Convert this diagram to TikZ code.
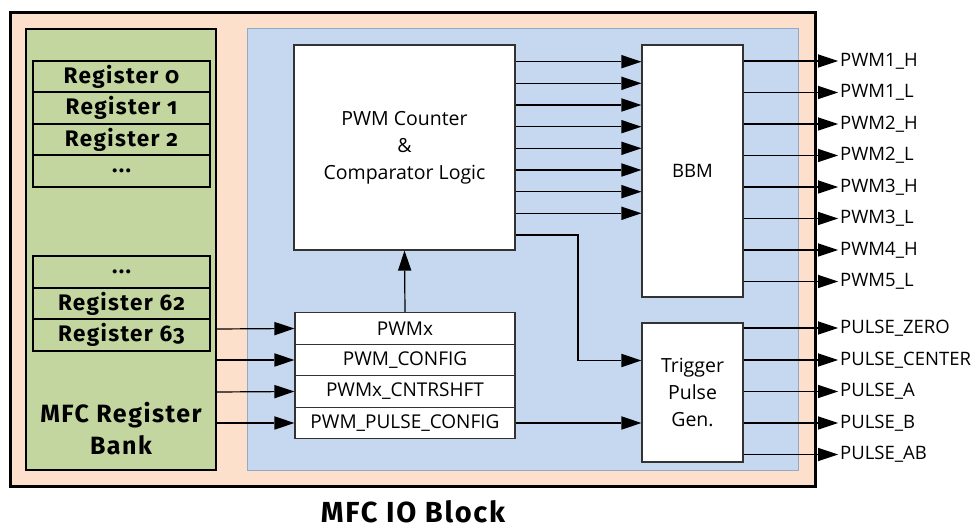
\documentclass[tikz,border=0pt]{standalone}
\usepackage{fontspec}
\setmainfont{Open Sans}
\newfontfamily\regfont[Numbers=OldStyle,LetterSpace=6]{Fira Sans}
\usetikzlibrary{arrows.meta}
\definecolor{peach}{HTML}{FCE0CC}
\definecolor{regGreen}{HTML}{C4D69F}
\definecolor{blk}{HTML}{C6D8EF}
\definecolor{blkBorder}{HTML}{95A9C4}
\tikzset{
  lbl/.style={font=\fontsize{18.5}{20}\selectfont, anchor=west, inner sep=0pt},
  regrow/.style={draw=black, line width=2pt, fill=regGreen, minimum width=177pt, minimum height=31.5pt, inner sep=0pt, font=\regfont\bfseries\fontsize{22.5}{24}\selectfont},
  stackrow/.style={draw=black!80, line width=1.2pt, fill=white, minimum width=220pt, minimum height=31.5pt, inner sep=0pt, font=\fontsize{19}{21}\selectfont},
  wbox/.style={draw=black!80, line width=1.2pt, fill=white, inner sep=0pt, align=center},
  sig/.style={line width=1.2pt, arrows={-Triangle[length=20pt,width=13.5pt,line width=0pt]}},
  wire/.style={line width=1.2pt}
}
\begin{document}
\begin{tikzpicture}[x=1pt,y=-1pt]
\useasboundingbox (0,0) rectangle (978,529);
% outer block
\node[draw=black, line width=3pt, fill=peach, minimum width=805pt, minimum height=473pt, inner sep=0pt] (outer) at (412.5,249.5) {};
% register bank
\node[draw=black, line width=2pt, fill=regGreen, minimum width=190pt, minimum height=441pt, inner sep=0pt] (bank) at (121,249.5) {};
\node[regrow] (r0) at (121.5,76.5) {Register 0};
\node[regrow] (r1) at (121.5,108) {Register 1};
\node[regrow] (r2) at (121.5,139.5) {Register 2};
\node[regrow] (r3) at (121.5,171) {...};
\node[regrow] (r61) at (121.5,272) {...};
\node[regrow] (r62) at (121.5,303.5) {Register 62};
\node[regrow] (r63) at (121.5,335) {Register 63};
\node[align=center, inner sep=0pt, font=\regfont\bfseries\fontsize{25}{32}\selectfont] (bankl) at (121,429) {MFC Register\\Bank};
% IO block
\node[draw=blkBorder, line width=1pt, fill=blk, minimum width=551pt, minimum height=441pt, inner sep=0pt] (io) at (522.5,249.5) {};
\node[wbox, minimum width=221pt, minimum height=205pt, font=\fontsize{19.5}{27}\selectfont] (cnt) at (404.5,147.5) {PWM Counter\\\&\\Comparator Logic};
\node[wbox, minimum width=101pt, minimum height=252pt, font=\fontsize{18.5}{20}\selectfont] (bbm) at (692.5,171) {BBM};
\node[wbox, minimum width=101pt, minimum height=139pt, font=\fontsize{19.5}{27}\selectfont] (trg) at (692.5,392.5) {Trigger\\Pulse\\Gen.};
\node[stackrow] (s1) at (405,328.5) {PWMx};
\node[stackrow] (s2) at (405,360) {PWM\_CONFIG};
\node[stackrow] (s3) at (405,391.5) {PWMx\_CNTRSHFT};
\node[stackrow] (s4) at (405,423) {PWM\_PULSE\_CONFIG};
% register bank to stack
\draw[sig] (bank.east |- 0,329) -- (s1.west);
\draw[sig] (bank.east |- 0,360) -- (s2.west);
\draw[sig] (bank.east |- 0,392) -- (s3.west);
\draw[sig] (bank.east |- 0,423) -- (s4.west);
% stack to counter
\draw[sig] (s1.north) -- (cnt.south);
% counter to BBM
\foreach \yy in {61.7,83.3,105,126.7,148.3,170,191.7,213.3}{
  \draw[sig] (cnt.east |- 0,\yy) -- (bbm.west |- 0,\yy);
}
% counter to trigger
\coordinate (bend) at (578,235);
\draw[sig] (cnt.east |- bend) -- (bend) |- (trg.west |- 0,360.5);
\draw[sig] (s4.east) -- (trg.west |- s4.east);
% BBM outputs
\foreach \yy/\nm/\tx in {61/o1/PWM1\_H, 92.5/o2/PWM1\_L, 124/o3/PWM2\_H, 155.5/o4/PWM2\_L, 187/o5/PWM3\_H, 218.5/o6/PWM3\_L, 250/o7/PWM4\_H, 281.5/o8/PWM5\_L}{
  \node[lbl] (\nm) at (840,\yy) {\tx};
  \draw[sig] (bbm.east |- 0,\yy) -- ([xshift=-2pt]\nm.west);
}
% trigger outputs
\foreach \yy/\nm/\tx in {328/p1/PULSE\_ZERO, 360/p2/PULSE\_CENTER, 391.5/p3/PULSE\_A, 423/p4/PULSE\_B, 454.5/p5/PULSE\_AB}{
  \node[lbl] (\nm) at (840,\yy) {\tx};
  \draw[sig] (trg.east |- 0,\yy) -- ([xshift=-2pt]\nm.west);
}
% title
\node[font=\regfont\bfseries\fontsize{29}{31}\selectfont, inner sep=0pt] (title) at (413,512) {MFC IO Block};
\end{tikzpicture}
\end{document}
